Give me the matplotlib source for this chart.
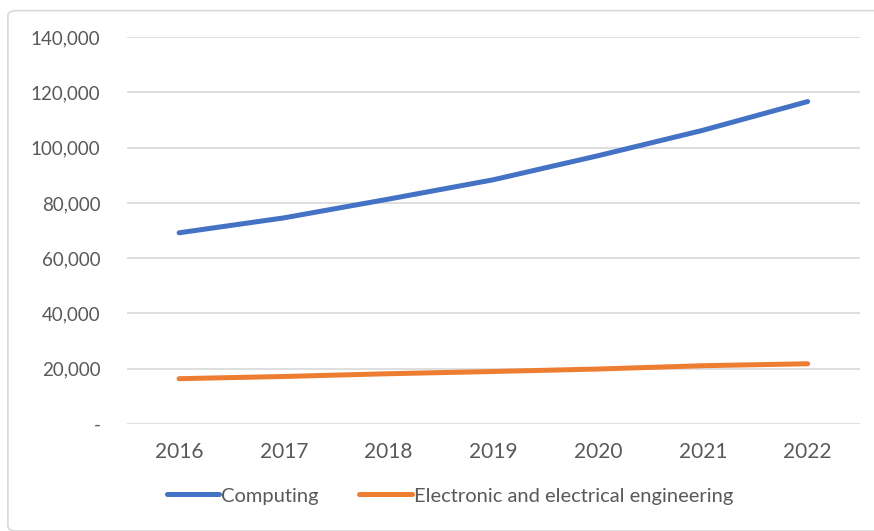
import numpy as np
import matplotlib
matplotlib.use('Agg')
import matplotlib.pyplot as plt
from matplotlib.patches import FancyBboxPatch
from matplotlib.ticker import FuncFormatter

years = ['2016', '2017', '2018', '2019', '2020', '2021', '2022']
computing = [69200, 74600, 81400, 88400, 97100, 106300, 116700]
electronic = [16400, 17200, 18200, 19000, 19900, 21100, 21800]

plt.rcParams['font.family'] = ['Lato', 'DejaVu Sans']

fig = plt.figure(figsize=(8.74, 5.31), dpi=100)
ax = fig.add_axes([0.145, 0.2015, 0.839, 0.7285])

# light chart border like the Excel frame
fig.patches.append(FancyBboxPatch((0.009, 0.0), 1.1, 0.98, boxstyle='round,pad=0,rounding_size=0.01',
                                  transform=fig.transFigure, fill=False,
                                  edgecolor='#d9d9d9', linewidth=1.2))

x = np.arange(len(years))
ax.plot(x, computing, color='#4472C4', linewidth=3.6, solid_capstyle='round',
        solid_joinstyle='round', label='Computing')
ax.plot(x, electronic, color='#ED7D31', linewidth=3.6, solid_capstyle='round',
        solid_joinstyle='round', label='Electronic and electrical engineering')

ax.set_xlim(-0.5, len(years) - 0.5)
ax.set_ylim(0, 140000)
ax.set_yticks(np.arange(0, 140001, 20000))
ax.yaxis.set_major_formatter(FuncFormatter(lambda v, _: '-' if v == 0 else f'{int(v):,}'))
ax.set_xticks(x)
ax.set_xticklabels(years)

ax.grid(axis='y', color='#d9d9d9', linewidth=1.2)
ax.set_axisbelow(True)
for s in ax.spines.values():
    s.set_visible(False)
ax.tick_params(axis='both', length=0, colors='#595959')
ax.tick_params(axis='y', pad=19, labelsize=13.5)
ax.tick_params(axis='x', pad=13, labelsize=15)

fig.legend(loc='center', bbox_to_anchor=(0.515, 0.066), ncol=2, frameon=False,
           handlelength=2.6, handletextpad=0.1, columnspacing=2.0,
           fontsize=14.5, labelcolor='#595959')

fig.savefig('out.png', dpi=100, facecolor='white')
